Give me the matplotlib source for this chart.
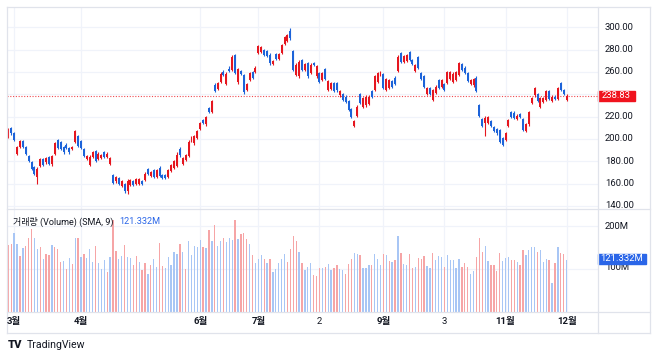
import matplotlib
matplotlib.use('Agg')
import matplotlib.pyplot as plt
from matplotlib.patches import Rectangle
from matplotlib.lines import Line2D
import numpy as np

plt.rcParams['font.family'] = ['Roboto', 'Noto Sans CJK KR', 'DejaVu Sans']

opens = [202,210,205,187,193,198,193,185,179,175,
         166,176,182,179,184,178,187,199,197,193,
         195,192,191,197,203,198,191,182,177,184,
         189,182,183,188,184,178,168,162,165,158,
         160,153,159,162,160,160,162,163,173,167,
         172,166,174,168,168,166,171,174,176,191,
         178,181,185,198,196,201,209,217,213,228,
         224,248,245,251,260,249,263,262,275,251,
         261,257,244,253,260,260,277,278,280,279,
         275,267,276,272,277,285,288,297,279,257,
         256,271,262,268,259,268,256,259,253,263,
         244,245,250,250,239,240,238,234,227,212,
         221,240,229,230,231,243,244,251,257,258,
         244,246,252,255,261,277,269,270,278,271,
         261,273,259,256,240,246,235,241,253,247,
         249,250,254,251,253,257,267,264,259,249,
         248,255,230,218,214,214,216,211,209,208,
         201,199,212,224,223,218,222,218,207,213,
         232,239,240,229,233,235,243,234,238,236,
         250,244,235]
highs = [210,211,206,194,199,199,194,186,180,176,
         175,183,183,184,185,186,197,200,198,194,
         196,193,194,208,204,199,192,186,186,189,
         190,188,187,189,188,184,169,167,166,163,
         161,164,164,163,165,165,163,170,174,171,
         173,173,176,169,169,173,178,181,188,193,
         184,187,199,203,204,208,215,218,221,229,
         235,250,251,260,262,260,265,275,276,264,
         262,258,250,260,261,265,284,283,281,280,
         277,271,277,277,285,292,294,299,280,268,
         271,272,268,269,268,269,266,260,260,264,
         253,251,251,251,244,241,239,235,228,217,
         230,241,238,239,239,244,257,260,261,259,
         255,254,253,256,275,278,275,276,279,272,
         267,274,260,257,247,247,245,248,254,254,
         250,261,261,260,261,269,268,265,260,254,
         255,256,231,219,221,221,217,212,210,209,
         202,206,218,225,225,222,223,219,214,225,
         238,247,241,238,238,244,244,239,239,247,
         251,245,240]
lows = [201,204,198,186,192,192,186,179,172,168,
        160,175,176,178,177,176,186,191,190,187,
        191,187,190,196,193,191,184,181,176,183,
        179,181,182,183,183,177,160,161,159,157,
        152,151,158,158,159,159,159,162,168,166,
        165,165,166,164,164,165,170,173,175,184,
        177,180,184,197,195,200,208,213,212,223,
        223,242,244,250,256,248,260,261,258,249,
        257,240,243,252,254,259,276,277,274,273,
        266,266,271,271,276,284,287,289,261,256,
        255,261,261,255,258,265,255,250,252,253,
        243,244,242,242,238,234,232,225,219,211,
        220,231,228,229,230,237,243,250,256,245,
        243,245,246,248,260,268,268,269,270,266,
        260,263,253,246,239,239,234,240,245,246,
        243,249,253,250,252,256,261,258,251,248,
        247,242,220,211,203,213,211,206,204,196,
        194,198,211,219,218,217,219,207,206,212,
        231,238,233,228,232,234,235,233,235,235,
        243,239,234]
closes = [209,205,199,193,198,193,187,180,173,169,
          173,182,177,183,178,185,196,192,191,188,
          192,188,193,207,194,192,185,185,184,188,
          180,187,186,184,187,183,161,166,160,162,
          153,162,163,159,164,164,160,169,169,170,
          166,172,167,165,165,172,177,180,186,186,
          183,186,197,202,203,207,214,214,220,224,
          234,243,250,258,257,258,261,273,259,263,
          258,242,249,259,255,264,283,282,275,274,
          268,270,272,276,284,291,293,290,262,266,
          269,262,267,256,266,266,265,251,259,254,
          252,250,243,244,243,235,233,226,220,216,
          229,232,237,238,238,238,256,259,260,246,
          254,253,247,249,273,269,274,275,271,267,
          266,264,254,247,246,240,244,247,246,253,
          244,260,260,258,260,268,262,259,252,253,
          254,243,221,212,219,220,212,207,205,197,
          195,205,217,220,219,221,220,208,213,224,
          237,246,234,237,237,243,236,238,236,246,
          244,240,238.83]
volumes = [155,159,183,157,130,149,153,173,193,171,
           147,150,124,135,132,155,151,147,117,119,
           100,125,112,173,173,128,135,126,146,117,
           154,114,100,120,92,128,214,142,124,129,
           155,128,125,110,130,116,97,114,89,108,
           122,104,160,106,101,128,110,139,135,159,
           139,100,165,132,153,150,167,151,149,190,
           165,203,153,165,173,163,171,167,214,169,
           181,183,169,158,133,113,124,133,122,114,
           122,92,100,114,124,134,116,146,177,165,
           139,113,98,104,114,86,84,102,101,104,112,
           98,101,109,100,98,89,112,122,138,135,
           132,102,101,108,108,135,124,110,134,132,
           118,116,120,177,137,112,108,135,101,105,
           125,122,129,106,103,138,120,130,127,104,
           132,120,120,101,124,104,113,105,89,94,
           128,173,139,153,119,108,109,94,138,119,
           125,128,120,120,117,108,143,132,143,150,
           152,139,145,117,124,120,66,113,150,137,134,121.332]
vol_dir = ("RRBBRBRRRB" "BRBRRBRRRB" "RBRBRBRBBB" "RBBBRBRRBB" "RBBRRBRRBR"
           "BBRRBBBBBR" "BRBBBBBRBR" "BRBBRBBBRB" "RRRBRBBBRB" "RBBBBBRRRR"
           "BRBBBRRRBRB"
           "BRRBBRRRBB" "RBBBRBBBRB" "RBRBRBBRRB" "RRRBBRBBBR" "BBBBBRRRBB"
           "RRRBBRRRRB" "BBRRBRRBBB" "BRBBBRBRBRRB")

tick_idx = [2, 25, 66, 86, 107, 129, 150, 171, 192]
tick_labels = ['3월', '4월', '6월', '7월', '2', '9월', '3', '11월', '12월']
tick_bold = [True, True, True, True, False, True, False, True, True]
price_ticks = [140, 160, 180, 200, 220, 240, 260, 280, 300]
vol_ticks = [100, 200]
vol_tick_labels = ['100M', '200M']
last_price = 238.83
last_volume = '121.332M'
legend_text = '거래량 (Volume) (SMA, 9)'

UP = '#e5161f'
DN = '#1c63d9'
VUP = '#f6a5a6'
VDN = '#a8c6f5'
GRID = '#f0f3fa'
BORDER = '#e0e3eb'
TXT = '#131722'

W, H = 658, 358
fig = plt.figure(figsize=(W / 100, H / 100), dpi=100)
fig.patch.set_facecolor('white')

def fx(px):
    return px / W

def fy(py):
    return 1 - py / H

L, R = 7, 597.7
T, M, B = 7, 209, 311.7
RR, BB = 650, 332.7

axp = fig.add_axes([fx(L), fy(M), fx(R) - fx(L), fy(T) - fy(M)])
axv = fig.add_axes([fx(L), fy(B), fx(R) - fx(L), fy(M) - fy(B)])

n = len(closes)
x = np.arange(n)
xlim = (-0.45, 202.7)

for ax in (axp, axv):
    ax.set_xlim(*xlim)
    ax.set_xticks(tick_idx)
    ax.tick_params(length=0, labelbottom=False, labelleft=False)
    for s in ax.spines.values():
        s.set_visible(False)
    ax.grid(True, color=GRID, lw=0.9)
    ax.set_axisbelow(True)
    ax.set_facecolor('white')

# price pane
axp.set_ylim(137.3, 318.2)
axp.set_yticks(price_ticks)
o = np.array(opens, float); c = np.array(closes, float)
hi = np.array(highs, float); lo = np.array(lows, float)
cols = [UP if cc >= oo else DN for oo, cc in zip(o, c)]
axp.vlines(x, lo, hi, colors=cols, lw=0.8, zorder=2)
axp.bar(x, np.maximum(np.abs(c - o), 0.4), bottom=np.minimum(o, c), width=0.68,
        color=cols, lw=0, zorder=3)
axp.axhline(last_price, color='#f04a50', lw=0.8, ls=(0, (1, 1.5)), zorder=1)

ytr = axp.get_yaxis_transform()
for p in price_ticks:
    if abs(p - last_price) < 6:
        continue  # hidden behind the last-price tag
    axp.text((605 - L) / (R - L), p, f'{p:.2f}', transform=ytr, ha='left', va='center',
             fontsize=6.8, color=TXT, clip_on=False)
axp.add_patch(Rectangle((1.0, last_price - 4.4), (635 - R) / (R - L), 8.9, transform=ytr,
                        color='#f0131e', clip_on=False, zorder=5))
axp.text((616.5 - L) / (R - L), last_price, f'{last_price:.2f}', transform=ytr,
         ha='center', va='center', fontsize=6.8, color='white', zorder=6, clip_on=False)

# volume pane
axv.set_ylim(0, 239.7)
axv.set_yticks(vol_ticks)
vcols = [VUP if d == 'R' else VDN for d in vol_dir]
axv.bar(x, volumes, width=0.45, color=vcols, lw=0, zorder=2)
vtr = axv.get_yaxis_transform()
for v, lab in zip(vol_ticks, vol_tick_labels):
    axv.text((605 - L) / (R - L), v + (2.5 if v == 100 else 0), lab, transform=vtr,
             ha='left', va='center', fontsize=6.8, color=TXT, clip_on=False, zorder=4)
vlast = volumes[-1]
axv.add_patch(Rectangle((1.0, vlast - 10.5), (646 - R) / (R - L), 25, transform=vtr,
                        color='#2a66e8', clip_on=False, zorder=5))
axv.text((622 - L) / (R - L), vlast + 2, last_volume, transform=vtr, ha='center',
         va='center', fontsize=6.8, color='white', zorder=6, clip_on=False)

# legend, scaled so that it spans the same width as in the reference
leg = fig.text(fx(13), fy(222), legend_text, fontsize=6.9, color=TXT, va='center', ha='left')
fig.canvas.draw()
w = leg.get_window_extent().width
leg.set_fontsize(6.9 * 100.0 / w)
fig.text(fx(119), fy(222), last_volume, fontsize=6.6, color='#2a66e8', va='center', ha='left')

# time labels
for i, lab, bold in zip(tick_idx, tick_labels, tick_bold):
    px = L + (i - xlim[0]) / (xlim[1] - xlim[0]) * (R - L)
    fig.text(fx(px), fy(321.7), lab, fontsize=6.8, color=TXT, ha='center', va='center',
             fontweight='bold' if bold else 'normal')

# frame lines
def fl(x0, y0, x1, y1):
    fig.add_artist(Line2D([fx(x0), fx(x1)], [fy(y0), fy(y1)], color=BORDER, lw=0.9))

fl(L, T, RR, T)
fl(L, BB, RR, BB)
fl(L, T, L, BB)
fl(RR, T, RR, BB)
fl(R, T, R, BB)
fl(L, M, RR, M)
fl(L, B, RR, B)

# TradingView logo
fig.text(fx(7.5), fy(345), 'TV', fontsize=8, fontweight='heavy', color=TXT, ha='left', va='center')
fig.text(fx(27), fy(345), 'TradingView', fontsize=7.6, color=TXT, ha='left', va='center')

fig.savefig('out.png', dpi=100, facecolor='white')
